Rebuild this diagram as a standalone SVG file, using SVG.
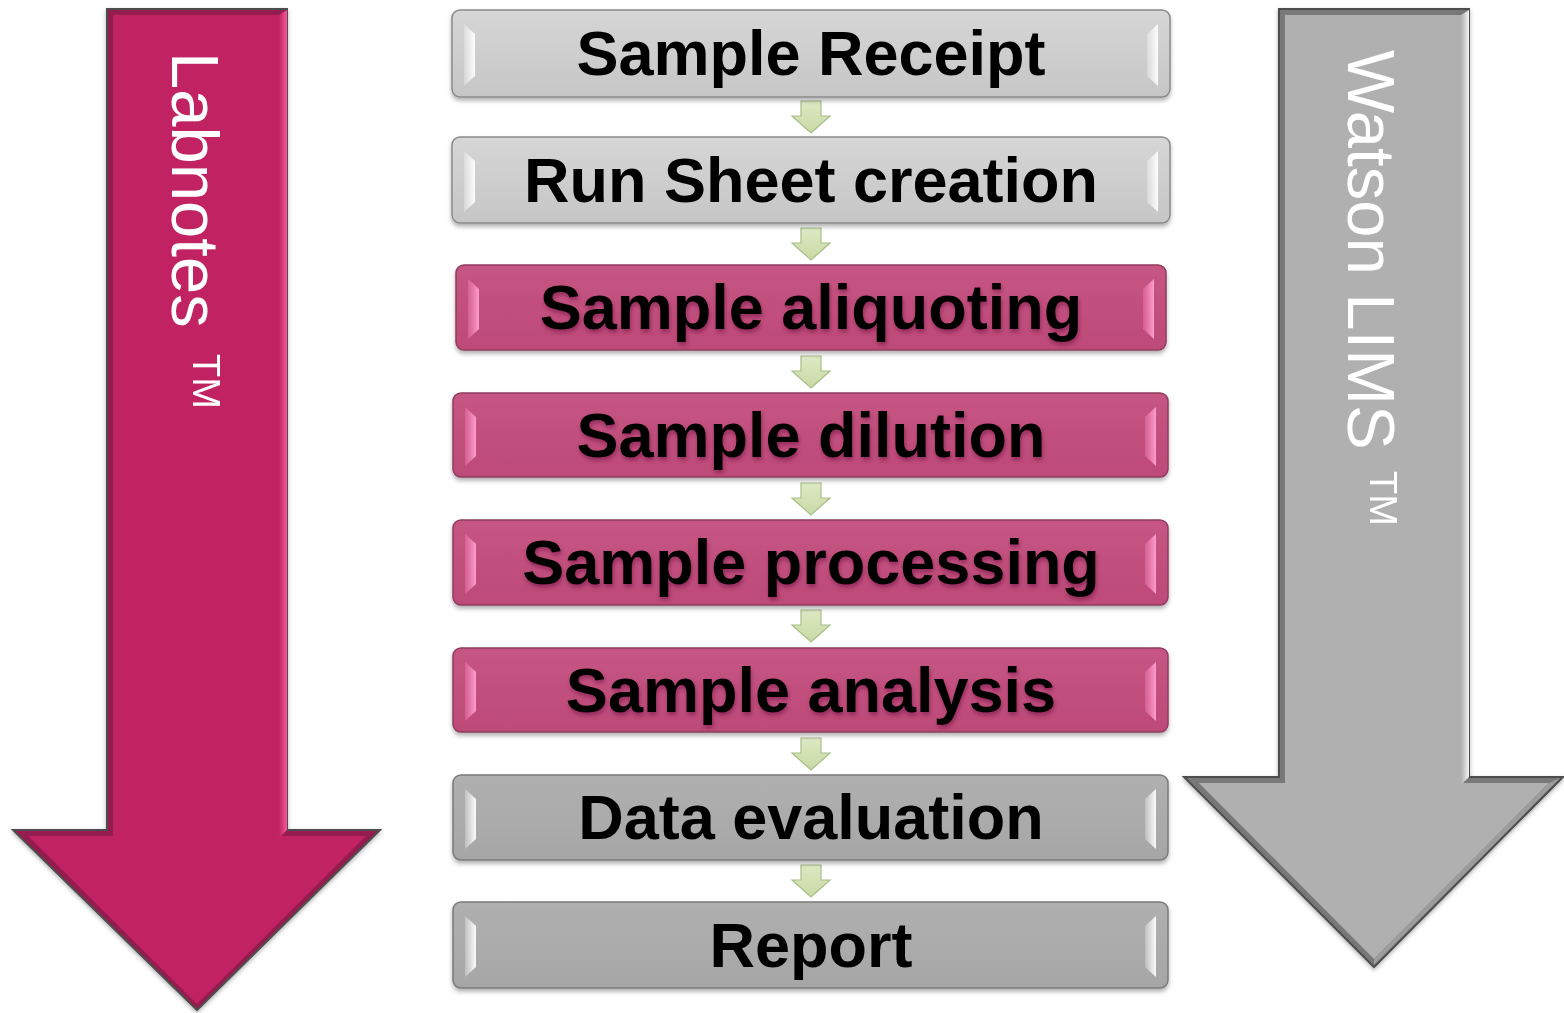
<svg xmlns="http://www.w3.org/2000/svg" width="1564" height="1013" viewBox="0 0 1564 1013">
<defs>
  <linearGradient id="gLight" x1="0" y1="0" x2="0" y2="1">
    <stop offset="0" stop-color="#D6D6D6"/><stop offset="1" stop-color="#C6C6C6"/>
  </linearGradient>
  <linearGradient id="gDark" x1="0" y1="0" x2="0" y2="1">
    <stop offset="0" stop-color="#B0B0B0"/><stop offset="1" stop-color="#A6A6A6"/>
  </linearGradient>
  <linearGradient id="gPink" x1="0" y1="0" x2="0" y2="1">
    <stop offset="0" stop-color="#C65583"/><stop offset="1" stop-color="#BD4A78"/>
  </linearGradient>
  <linearGradient id="facetW" x1="0" y1="0" x2="1" y2="0">
    <stop offset="0" stop-color="#FFFFFF" stop-opacity="0.25"/><stop offset="1" stop-color="#FFFFFF" stop-opacity="0.95"/>
  </linearGradient>
  <linearGradient id="facetP" x1="0" y1="0" x2="1" y2="0">
    <stop offset="0" stop-color="#F27DB2" stop-opacity="0.4"/><stop offset="1" stop-color="#FF9FCF" stop-opacity="1"/>
  </linearGradient>
  <linearGradient id="hiPink" x1="0" y1="0" x2="1" y2="0">
    <stop offset="0" stop-color="#C02262"/><stop offset="1" stop-color="#F7579C"/>
  </linearGradient>
  <linearGradient id="hiGray" x1="0" y1="0" x2="1" y2="0">
    <stop offset="0" stop-color="#B0B0B0"/><stop offset="1" stop-color="#F4F4F4"/>
  </linearGradient>
  <linearGradient id="gGreen" x1="0" y1="0" x2="0" y2="1">
    <stop offset="0" stop-color="#DDE9C4"/><stop offset="1" stop-color="#C9DAA4"/>
  </linearGradient>
  <filter id="shadow" x="-5%" y="-20%" width="110%" height="150%">
    <feDropShadow dx="0" dy="3" stdDeviation="2" flood-color="#000" flood-opacity="0.3"/>
  </filter>
  <filter id="tshadow" x="-5%" y="-20%" width="110%" height="150%">
    <feDropShadow dx="1" dy="3" stdDeviation="2" flood-color="#5A1030" flood-opacity="0.45"/>
  </filter>
  <filter id="ashadow" x="-10%" y="-5%" width="120%" height="110%">
    <feDropShadow dx="0" dy="2" stdDeviation="2" flood-color="#000" flood-opacity="0.3"/>
  </filter>
</defs>
<style>
  .box { stroke-width: 1.5; }
  .light { fill: url(#gLight); stroke: #8A8A8A; }
  .dark { fill: url(#gDark); stroke: #7A7A7A; }
  .pink { fill: url(#gPink); stroke: #8E3C5E; }
  .fw { fill: url(#facetW); }
  .fp { fill: url(#facetP); }
  .label { font-family: "Liberation Sans", Arial, sans-serif; font-weight: bold; font-size: 63px; fill: #000; text-anchor: middle; }
  .plabel { filter: url(#tshadow); }
  .side { font-family: "Liberation Sans", Arial, sans-serif; font-size: 67px; fill: #FFFFFF; }
  .tm { font-family: "Liberation Sans", Arial, sans-serif; font-size: 38px; fill: #FFFFFF; }
  .conn { fill: url(#gGreen); stroke: #A8BE88; stroke-width: 1.2; }
</style>

<g id="labnotes-arrow" filter="url(#ashadow)">
  <polygon points="107,9 287,9 287,830 380,830 197,1010 13,830 107,830" fill="#951D50" stroke="#4E4E4E" stroke-width="2"/>
  <polygon points="113,15 281,15 281,836 366,836 197,1004 28,836 113,836" fill="#C02262"/>
  <polygon points="279,15 287,10 287,830 279,838" fill="url(#hiPink)"/>
  <text class="side" transform="translate(172,52) rotate(90)">Labnotes</text>
  <text class="tm" transform="translate(193,354) rotate(90)">TM</text>
</g>

<g id="watson-arrow" filter="url(#ashadow)">
  <polygon points="1279,9 1469,9 1469,777 1563,777 1374,967 1184,777 1279,777" fill="#787878" stroke="#4E4E4E" stroke-width="2"/>
  <polygon points="1285,15 1463,15 1463,783 1549,783 1374,959 1199,783 1285,783" fill="#B0B0B0"/>
  <polygon points="1461,15 1469,10 1469,777 1461,785" fill="url(#hiGray)"/>
  <polygon points="1549,783 1560,778 1374,965 1374,959" fill="#9C9C9C"/>
  <text class="side" transform="translate(1348,50) rotate(90)">Watson LIMS</text>
  <text class="tm" transform="translate(1370,471) rotate(90)">TM</text>
</g>

<g id="connectors">
  <polygon class="conn" points="801,101 821,101 821,116 830,116 811,133 792,116 801,116"/>
  <polygon class="conn" points="801,228 821,228 821,243 830,243 811,260 792,243 801,243"/>
  <polygon class="conn" points="801,356 821,356 821,371 830,371 811,388 792,371 801,371"/>
  <polygon class="conn" points="801,483 821,483 821,498 830,498 811,515 792,498 801,498"/>
  <polygon class="conn" points="801,610 821,610 821,625 830,625 811,642 792,625 801,625"/>
  <polygon class="conn" points="801,738 821,738 821,753 830,753 811,770 792,753 801,753"/>
  <polygon class="conn" points="801,865 821,865 821,880 830,880 811,897 792,880 801,880"/>
</g>

<g id="sample-receipt">
  <rect class="box light" x="452" y="10" width="718" height="87" rx="8" filter="url(#shadow)"/>
  <polygon class="fw" points="464,24 475,34 475,76 464,86"/>
  <polygon class="fw" points="1147,34 1158,24 1158,86 1147,76"/>
  <text class="label" x="811" y="75">Sample Receipt</text>
</g>

<g id="run-sheet-creation">
  <rect class="box light" x="452" y="137" width="718" height="86" rx="8" filter="url(#shadow)"/>
  <polygon class="fw" points="464,151 475,161 475,202 464,212"/>
  <polygon class="fw" points="1147,161 1158,151 1158,212 1147,202"/>
  <text class="label" x="811" y="202">Run Sheet creation</text>
</g>

<g id="sample-aliquoting">
  <rect class="box pink" x="456" y="265" width="710" height="85" rx="8" filter="url(#shadow)"/>
  <polygon class="fp" points="468,279 479,289 479,329 468,339"/>
  <polygon class="fp" points="1143,289 1154,279 1154,339 1143,329"/>
  <text class="label plabel" x="811" y="329">Sample aliquoting</text>
</g>

<g id="sample-dilution">
  <rect class="box pink" x="453" y="393" width="715" height="84" rx="8" filter="url(#shadow)"/>
  <polygon class="fp" points="465,407 476,417 476,456 465,466"/>
  <polygon class="fp" points="1145,417 1156,407 1156,466 1145,456"/>
  <text class="label plabel" x="811" y="457">Sample dilution</text>
</g>

<g id="sample-processing">
  <rect class="box pink" x="453" y="520" width="715" height="85" rx="8" filter="url(#shadow)"/>
  <polygon class="fp" points="465,534 476,544 476,584 465,594"/>
  <polygon class="fp" points="1145,544 1156,534 1156,594 1145,584"/>
  <text class="label plabel" x="811" y="584">Sample processing</text>
</g>

<g id="sample-analysis">
  <rect class="box pink" x="453" y="648" width="715" height="84" rx="8" filter="url(#shadow)"/>
  <polygon class="fp" points="465,662 476,672 476,711 465,721"/>
  <polygon class="fp" points="1145,672 1156,662 1156,721 1145,711"/>
  <text class="label plabel" x="811" y="712">Sample analysis</text>
</g>

<g id="data-evaluation">
  <rect class="box dark" x="453" y="775" width="715" height="85" rx="8" filter="url(#shadow)"/>
  <polygon class="fw" points="465,789 476,799 476,839 465,849"/>
  <polygon class="fw" points="1145,799 1156,789 1156,849 1145,839"/>
  <text class="label" x="811" y="839">Data evaluation</text>
</g>

<g id="report">
  <rect class="box dark" x="453" y="902" width="715" height="86" rx="8" filter="url(#shadow)"/>
  <polygon class="fw" points="465,916 476,926 476,967 465,977"/>
  <polygon class="fw" points="1145,926 1156,916 1156,977 1145,967"/>
  <text class="label" x="811" y="967">Report</text>
</g>
</svg>
